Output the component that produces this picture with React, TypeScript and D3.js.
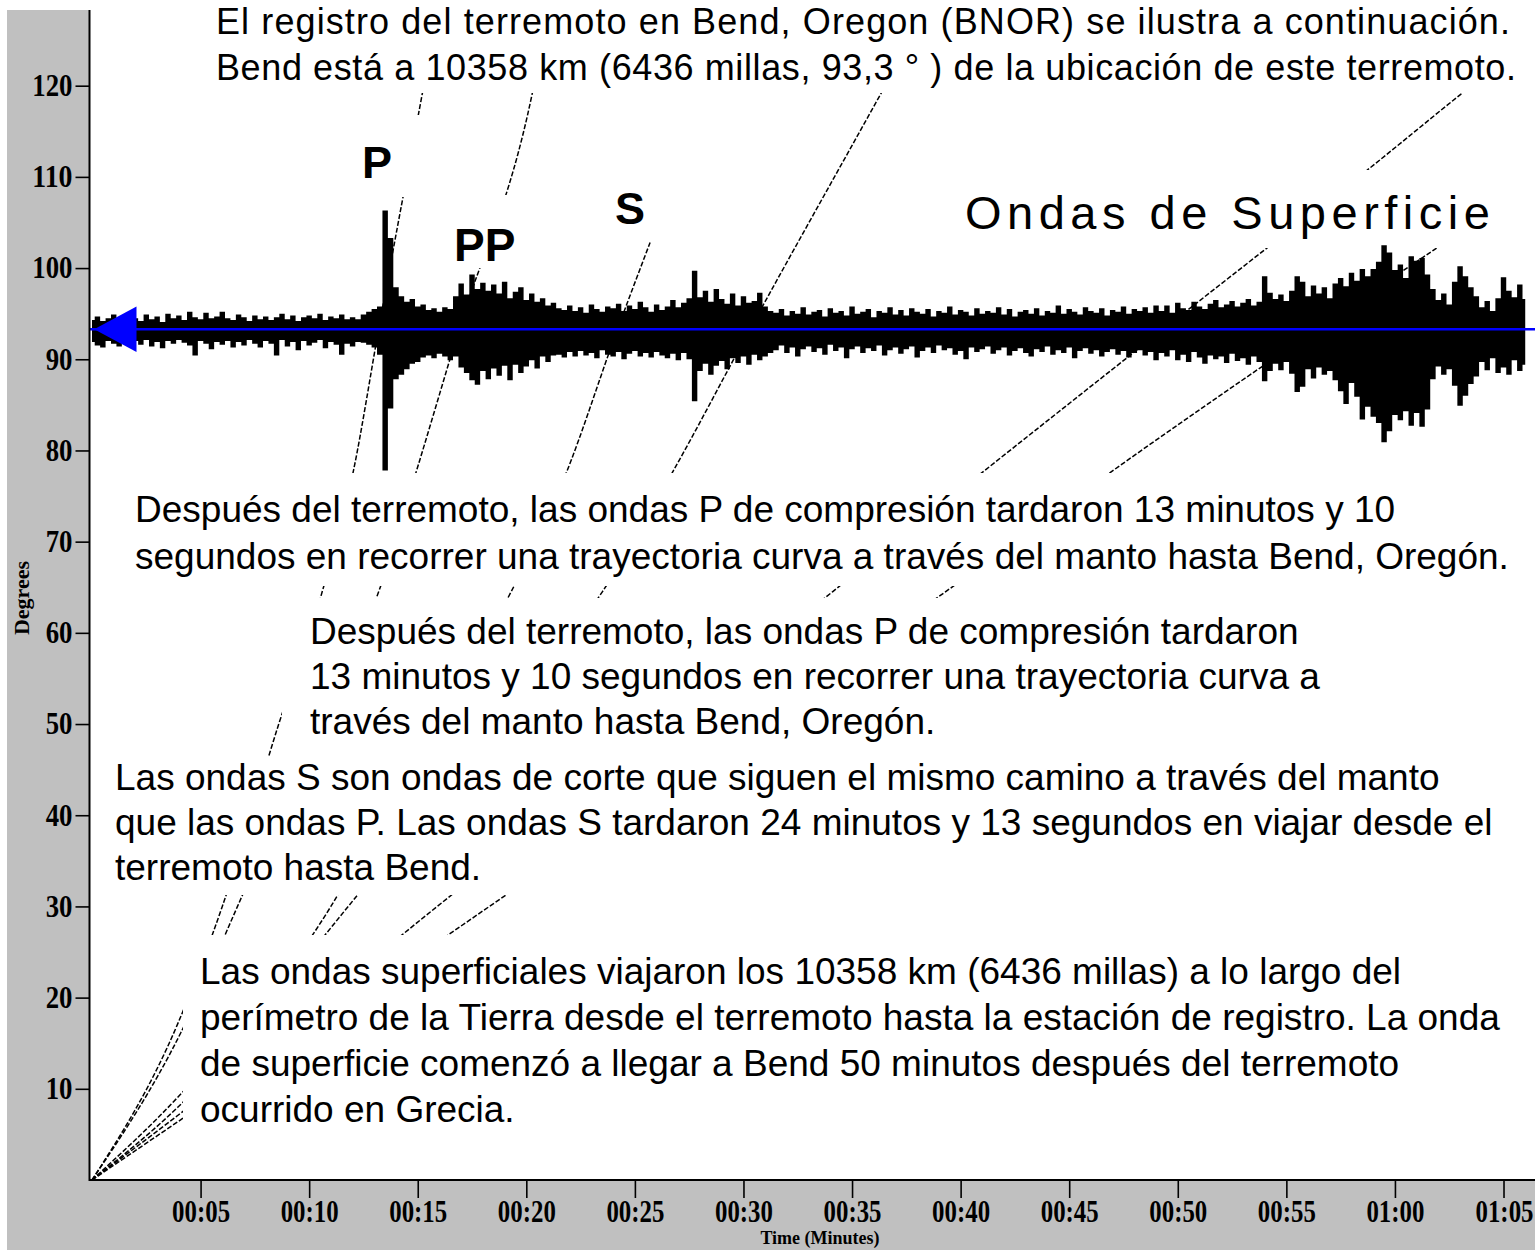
import React, { useEffect, useRef } from "react";
import * as d3 from "d3";

const WIDTH = 1535;
const HEIGHT = 1250;

// axis ticks
const degreeTicks = [10, 20, 30, 40, 50, 60, 70, 80, 90, 100, 110, 120];
const minuteTicks = [5, 10, 15, 20, 25, 30, 35, 40, 45, 50, 55, 60, 65];

// station distance (degrees) and seismogram samples, one every quarter minute
const stationDistance = 93.3;
const sampleStep = 0.25;
const traceUp = [
  1.0, 1.4, 0.9, 1.2, 1.6, 1.1, 1.3, 1.0, 1.2, 0.9, 1.6, 1.1, 1.4, 0.8, 1.7, 1.2,
  1.5, 1.0, 1.9, 1.3, 1.1, 1.8, 1.2, 1.4, 1.9, 1.2, 1.0, 1.6, 1.3, 0.9, 1.5, 1.1,
  1.4, 1.0, 1.3, 1.7, 1.1, 1.5, 0.9, 1.3, 1.5, 1.2, 1.7, 1.0, 1.4, 1.2, 1.6, 1.1,
  1.3, 1.1, 1.6, 1.9, 2.2,
  2.5, 13.0, 10.0, 4.6, 3.6, 3.0, 3.3, 2.5, 2.7, 2.1, 2.3, 1.9, 2.4, 2.2, 3.6, 5.0,
  3.8, 6.0, 4.4, 5.1, 4.2, 4.9, 3.9, 5.2, 3.4, 4.1, 4.6, 3.2, 3.9, 3.0, 3.4, 2.6,
  2.9, 2.3, 2.1, 2.6, 2.0, 2.4, 1.8, 2.7, 2.2, 1.9, 2.5, 2.3, 2.8, 2.0, 2.6, 2.2,
  3.0, 2.4, 1.9, 2.7, 2.1, 2.5, 3.2, 2.4, 2.9, 3.4, 6.4, 3.5, 4.2, 3.0, 4.4, 3.3,
  2.8, 3.9, 2.6, 3.6, 2.9, 3.1, 4.0, 2.5, 2.0,
  1.8, 2.2, 1.5, 2.0, 1.7, 2.4, 1.6, 1.9, 2.1, 1.4, 2.3, 1.8, 2.0, 1.5, 2.5, 1.7,
  1.9, 2.2, 1.3, 2.0, 1.8, 2.4, 1.6, 2.1, 1.5, 2.3, 1.9, 1.7, 2.2, 1.4, 2.0, 1.8,
  2.5, 1.6, 2.1, 1.9, 1.5, 2.3, 1.7, 2.0, 1.8, 2.4, 1.6, 2.2, 1.4, 1.9, 2.1, 1.7,
  2.3, 1.5, 2.0, 1.8, 2.6, 1.7, 2.2, 1.9, 1.6, 2.4, 2.0, 1.8, 2.3, 1.5, 2.1, 1.9,
  2.5, 1.7, 2.2, 2.0, 2.4, 1.8, 2.6,
  2.0, 2.6, 1.8, 2.9, 2.3, 2.1, 3.0, 2.5, 2.2, 2.8, 3.2, 2.4, 2.7, 3.1, 2.5, 2.9,
  3.3, 2.6, 3.0,
  5.8, 4.0, 3.3, 3.8, 3.1, 4.2, 5.8, 5.2, 3.6, 4.8, 3.9, 4.6, 3.4, 5.0, 5.6, 4.7,
  6.2, 5.3, 6.6, 5.8, 6.6, 7.4, 9.2, 8.4, 6.5, 7.1, 5.6, 8.0, 7.5, 7.8, 6.0, 4.4,
  3.2, 3.9, 2.7, 5.2, 6.9, 5.8, 4.6, 3.6, 2.4, 3.1, 2.0, 3.4, 5.7, 4.2, 3.5, 4.9,
  3.3,
];
const traceDown = [
  1.4, 1.8, 2.0, 1.3, 1.6, 1.9, 1.2, 1.5, 1.3, 1.7, 1.2, 1.9, 1.4, 2.1, 1.3, 1.6,
  1.2, 1.5, 1.8, 2.9, 1.3, 1.6, 2.2, 1.4, 1.7, 1.3, 2.0, 1.4, 1.8, 1.2, 1.6, 2.0,
  1.3, 1.6, 2.9, 1.2, 1.9, 1.4, 2.3, 1.3, 1.8, 1.5, 1.2, 2.1, 1.4, 1.7, 2.8, 1.6,
  1.9, 1.4, 1.5, 1.7, 2.0,
  2.8, 15.5, 8.7, 5.5, 5.0, 4.4, 3.8, 3.6, 3.1, 2.9, 3.2, 2.7, 3.0, 3.4, 3.0, 4.2,
  4.8, 5.6, 6.1, 4.6, 5.5, 4.3, 5.1, 4.0, 5.6, 3.9, 4.8, 4.1, 3.4, 4.3, 3.0, 3.6,
  2.9, 2.8, 3.1, 2.5, 3.0, 2.4, 2.9, 2.6, 3.2, 2.3, 2.8, 3.0, 2.5, 3.3, 2.7, 2.4,
  3.0, 2.6, 3.1, 2.5, 2.9, 3.2, 2.7, 3.4, 2.6, 3.3, 7.9, 4.6, 3.8, 5.0, 4.0, 3.5,
  4.4, 3.2, 3.7, 3.0, 3.9, 2.8, 3.4, 3.0, 2.6,
  2.3, 1.8, 2.6, 2.0, 3.0, 2.2, 1.9, 2.5, 2.1, 2.8, 1.7, 2.4, 2.0, 3.2, 2.2, 1.9,
  2.6, 2.1, 2.4, 1.8, 2.9, 2.3, 2.0, 2.7, 2.2, 1.9, 3.1, 2.4, 2.0, 2.6, 1.8, 2.3,
  2.1, 2.8, 2.4, 3.3, 2.0, 2.5, 2.2, 1.9, 2.7, 2.3, 2.0, 2.9, 2.4, 2.1, 2.6, 3.0,
  2.2, 2.5, 1.9, 2.8, 2.3, 2.6, 2.0, 3.2, 2.4, 2.1, 2.7, 2.3, 3.0, 2.5, 2.2, 2.8,
  2.4, 3.1, 2.6, 2.3, 2.9, 2.5, 3.4,
  2.6, 3.0, 2.3, 3.4, 2.8, 3.6, 2.5, 3.1, 3.8, 2.9, 3.3, 3.0, 3.7, 2.7, 3.5, 3.2,
  3.9, 3.0, 3.6,
  5.7, 4.6, 3.8, 4.5, 3.6, 4.9, 6.9, 6.3, 4.4, 5.4, 4.2, 5.0, 4.6, 5.6, 6.8, 8.2,
  5.9, 7.4, 9.9, 8.5, 9.6, 10.3, 12.4, 11.2, 9.4, 10.0, 9.0, 10.6, 9.2, 10.7, 8.8, 5.5,
  4.1, 5.0, 4.4, 6.2, 8.4, 7.3, 6.0, 5.2, 3.6, 4.5, 3.2, 4.8, 4.2, 5.0, 3.4, 4.6,
  3.9,
];

// travel-time curves: [minutes, degrees]
const pCurve: [number, number][] = [[0, 0], [3.96, 17.2], [6.0, 30], [8.6, 50], [10.6, 64.5], [12.05, 77.9], [13.2, 93.3], [15.2, 119], [15.9, 128]];
const ppCurve: [number, number][] = [[0, 0], [4.1, 16.2], [6.7, 30], [10.3, 50], [13.2, 64.5], [14.96, 77.9], [16.9, 93.3], [20.26, 119], [21.0, 128]];
const sCurve: [number, number][] = [[0, 0], [3.96, 9.1], [11.0, 30], [15.5, 50], [19.3, 64.5], [21.8, 77.3], [24.2, 93.3], [25.7, 102.8]];
const ssCurve: [number, number][] = [[0, 0], [3.96, 8.0], [11.8, 30], [18.5, 50], [23.5, 64.5], [26.8, 77.9], [30.3, 93.3], [36.3, 119], [38.4, 128]];
const fastSurface: [number, number][] = [[0, 0], [3.96, 7.1], [15.9, 30], [34.1, 64.5], [41.0, 77.6], [54.0, 102], [58.7, 110.7], [63.0, 119], [66.5, 125.6]];
const slowSurface: [number, number][] = [[0, 0], [3.96, 6.4], [18.3, 30], [39.3, 64.5], [46.9, 77.6], [61.8, 102], [66.5, 109.5]];

// texts
const titleLines = [
  "El registro del terremoto en Bend, Oregon (BNOR) se ilustra a continuación.",
  "Bend está a 10358 km (6436 millas, 93,3 ° ) de la ubicación de este terremoto.",
];
const pNoteLines = [
  "Después del terremoto, las ondas P de compresión tardaron 13 minutos y 10",
  "segundos en recorrer una trayectoria curva a través del manto hasta Bend, Oregón.",
];
const ppNoteLines = [
  "Después del terremoto, las ondas P de compresión tardaron",
  "13 minutos y 10 segundos en recorrer una trayectoria curva a",
  "través del manto hasta Bend, Oregón.",
];
const sNoteLines = [
  "Las ondas S son ondas de corte que siguen el mismo camino a través del manto",
  "que las ondas P. Las ondas S tardaron 24 minutos y 13 segundos en viajar desde el",
  "terremoto hasta Bend.",
];
const surfaceNoteLines = [
  "Las ondas superficiales viajaron los 10358 km (6436 millas) a lo largo del",
  "perímetro de la Tierra desde el terremoto hasta la estación de registro. La onda",
  "de superficie comenzó a llegar a Bend 50 minutos después del terremoto",
  "ocurrido en Grecia.",
];

const SANS = "'Liberation Sans', Arial, sans-serif";
const SERIF = "'Liberation Serif', 'Times New Roman', serif";

const x = d3.scaleLinear().domain([0, 66.45]).range([92, WIDTH]);
const y = d3.scaleLinear().domain([0, 128.3]).range([1180, 10]);

function TextBlock({ lines, left, top, lineHeight, box, size = 37, fit = null }) {
  return (
    <g>
      <rect x={box[0]} y={box[1]} width={box[2] - box[0]} height={box[3] - box[1]} fill="#fff" />
      {lines.map((t, i) => (
        <text
          key={i}
          x={left}
          y={top + i * lineHeight}
          fontFamily={SANS}
          fontSize={size}
          fill="#000"
          textLength={fit ? fit[i] : undefined}
          lengthAdjust={fit ? "spacing" : undefined}
        >
          {t}
        </text>
      ))}
    </g>
  );
}

export default function App() {
  const axisRef = useRef<SVGGElement>(null);

  useEffect(() => {
    const g = d3.select(axisRef.current);
    g.selectAll("*").remove();

    // Y axis ticks
    const yAxis = g
      .append("g")
      .attr("transform", "translate(89.5,0)")
      .call(d3.axisLeft(y).tickValues(degreeTicks).tickSize(14).tickPadding(3).tickFormat(d3.format("d")));
    yAxis.select(".domain").remove();
    yAxis
      .selectAll(".tick text")
      .attr("textLength", (d) => String(d).length * 13.4)
      .attr("lengthAdjust", "spacingAndGlyphs");

    // X axis ticks
    const fmt = (m) => `${String(Math.floor(m / 60)).padStart(2, "0")}:${String(m % 60).padStart(2, "0")}`;
    const xAxis = g
      .append("g")
      .attr("transform", "translate(0,1180)")
      .call(d3.axisBottom(x).tickValues(minuteTicks).tickSize(18).tickPadding(2).tickFormat(fmt));
    xAxis.select(".domain").remove();
    xAxis.selectAll(".tick text").attr("textLength", 58).attr("lengthAdjust", "spacingAndGlyphs");
    // last label sits against the right edge
    const lastMinute = minuteTicks[minuteTicks.length - 1];
    xAxis
      .selectAll(".tick text")
      .filter((d) => d === lastMinute)
      .attr("text-anchor", "end")
      .attr("x", WIDTH - 2 - x(lastMinute));

    g.selectAll(".tick line").attr("stroke", "#000").attr("stroke-width", 1.6);
    g.selectAll(".tick text")
      .attr("font-family", SERIF)
      .attr("font-weight", "bold")
      .attr("font-size", 31)
      .attr("fill", "#000");
  }, []);

  const curveLine = d3
    .line<[number, number]>()
    .x((d) => x(d[0]))
    .y((d) => y(d[1]))
    .curve(d3.curveMonotoneX);

  const traceArea = d3
    .area<number>()
    .x((_, i) => x(i * sampleStep))
    .y0((_, i) => y(stationDistance - traceDown[i]))
    .y1((d) => y(stationDistance + d))
    .curve(d3.curveStep);

  const yStation = y(stationDistance);
  const arrow = [
    [x(0.1), yStation],
    [x(2.05), y(stationDistance + 2.5)],
    [x(2.05), y(stationDistance - 2.5)],
  ];

  const curves = [pCurve, ppCurve, sCurve, ssCurve, fastSurface, slowSurface];

  return (
    <div style={{ position: "absolute", left: 0, top: 0 }}>
      <svg width={WIDTH} height={HEIGHT} style={{ display: "block" }}>
        <defs>
          <clipPath id="plot">
            <rect x={90} y={10} width={WIDTH - 90} height={1170} />
          </clipPath>
        </defs>
        <rect x={0} y={0} width={WIDTH} height={HEIGHT} fill="#fff" />
        <rect x={7} y={10} width={83} height={HEIGHT - 10} fill="#c0c0c0" />
        <rect x={90} y={1180} width={WIDTH - 90} height={70} fill="#c0c0c0" />

        {/* travel-time curves */}
        <g clipPath="url(#plot)">
          {curves.map((c, i) => (
            <path key={i} d={curveLine(c)} fill="none" stroke="#000" strokeWidth={1.5} strokeDasharray="5 2" />
          ))}
        </g>

        {/* label boxes hide the curves */}
        <TextBlock lines={titleLines} left={216} top={34} lineHeight={46} box={[90, 0, WIDTH, 93]} size={36} fit={[1294, 1300]} />
        <TextBlock lines={pNoteLines} left={135} top={522} lineHeight={47} box={[128, 473, WIDTH, 586]} />
        <TextBlock lines={ppNoteLines} left={310} top={644} lineHeight={45} box={[282, 598, WIDTH, 758]} />
        <TextBlock lines={sNoteLines} left={115} top={790} lineHeight={45} box={[108, 757, WIDTH, 895]} />
        <TextBlock lines={surfaceNoteLines} left={200} top={984} lineHeight={46} box={[183, 935, WIDTH, 1135]} />

        <rect x={358} y={115} width={70} height={82} fill="#fff" />
        <rect x={448} y={195} width={76} height={73} fill="#fff" />
        <rect x={955} y={170} width={WIDTH - 955} height={78} fill="#fff" />
        <text x={362} y={178} fontFamily={SANS} fontWeight="bold" fontSize={45}>P</text>
        <text x={454} y={261} fontFamily={SANS} fontWeight="bold" fontSize={46}>PP</text>
        <text x={615} y={224} fontFamily={SANS} fontWeight="bold" fontSize={45}>S</text>
        <text x={965} y={229} fontFamily={SANS} fontSize={47} letterSpacing={5.5}>Ondas de Superficie</text>

        {/* seismogram */}
        <path d={traceArea(traceUp)} fill="#000" />
        <line x1={90} x2={WIDTH} y1={yStation} y2={yStation} stroke="#0000ff" strokeWidth={2.5} />
        <polygon points={arrow.map((p) => p.join(",")).join(" ")} fill="#0000ff" />

        {/* axes */}
        <line x1={89.5} x2={89.5} y1={10} y2={1181} stroke="#000" strokeWidth={2} />
        <line x1={89} x2={WIDTH} y1={1180} y2={1180} stroke="#000" strokeWidth={2} />
        <g ref={axisRef} />
        <text
          transform="translate(29,598) rotate(-90)"
          textAnchor="middle"
          fontFamily={SERIF}
          fontWeight="bold"
          fontSize={22}
        >
          Degrees
        </text>
        <text x={820} y={1244} textAnchor="middle" fontFamily={SERIF} fontWeight="bold" fontSize={18}>
          Time (Minutes)
        </text>
      </svg>
    </div>
  );
}
